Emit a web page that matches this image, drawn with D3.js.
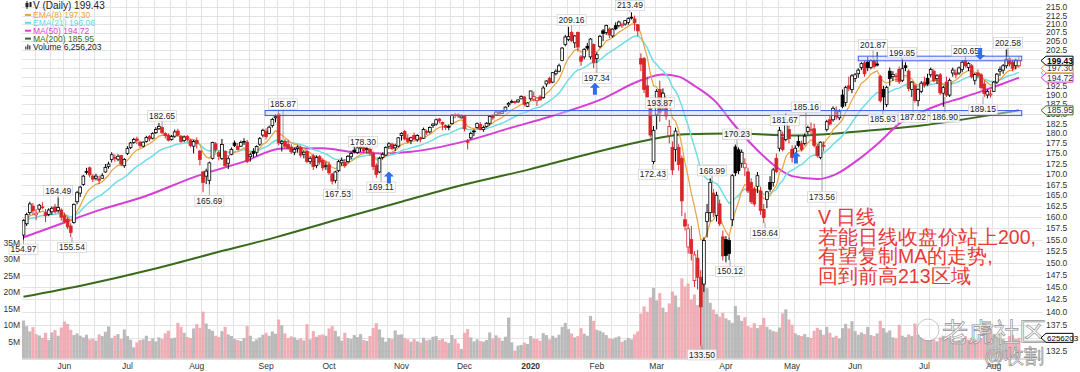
<!DOCTYPE html>
<html>
<head>
<meta charset="utf-8">
<script src="https://cdn.jsdelivr.net/npm/d3@7"></script>
<style>
  body { margin: 0; background: #fff; }
  svg { display: block; }
  text { font-family: "Liberation Sans", Arial, sans-serif; }
</style>
</head>
<body>
<div id="chart"></div>
<script>
// ---- data ----
const startDate = "2019-05-14";
const endDate = "2020-08-13";
const holidays = ["2019-05-27", "2019-07-04", "2019-09-02", "2019-11-28", "2019-12-25",
  "2020-01-01", "2020-01-20", "2020-02-17", "2020-04-10", "2020-05-25", "2020-07-03"];

// [open, high, low, close]
const ohlc = [
  // May 2019
  [156.0,159.5,154.97,159.2],[158.5,161.0,158.0,160.6],[161.0,163.5,160.5,163.0],[162.5,163.2,160.5,161.4],
  [160.5,161.8,159.3,160.9],[161.8,163.0,161.2,162.7],[162.3,163.4,161.8,162.2],[161.0,161.8,158.9,160.3],
  [160.6,162.0,160.2,161.6],[161.2,162.4,160.5,162.0],[162.3,163.0,160.8,161.2],[161.5,164.49,161.0,162.2],
  [161.6,162.0,159.2,160.0],
  // Jun
  [160.3,161.0,158.6,159.0],[159.5,160.0,157.3,157.8],[158.0,158.6,155.54,156.6],[158.8,163.1,158.5,162.9],
  [163.5,166.0,162.9,165.6],[165.5,167.2,164.6,166.9],[167.5,169.8,167.2,169.5],[170.5,171.5,169.9,170.6],
  [171.5,171.8,169.2,169.8],[169.5,170.0,168.1,168.8],[169.0,170.1,168.5,169.5],[168.8,169.6,167.6,168.5],
  [169.0,170.2,168.9,169.6],[170.5,172.4,170.3,171.6],[171.8,173.0,171.3,172.4],[173.5,175.3,172.8,174.7],
  [174.0,174.8,173.0,173.8],[173.6,174.8,173.1,174.3],[174.5,174.6,171.9,172.4],[172.0,173.9,171.5,173.55],
  // Jul
  [175.0,176.8,174.6,176.2],[176.5,177.9,176.1,177.6],[177.7,178.9,177.4,178.5],[178.6,179.2,177.3,178.2],
  [177.8,178.2,176.4,177.0],[176.8,178.0,176.5,177.8],[178.0,179.4,177.7,179.0],[179.2,179.6,178.0,178.6],
  [178.8,180.3,178.5,180.0],[180.2,181.6,179.9,181.0],[181.2,182.65,180.9,181.8],[181.5,181.8,179.8,180.2],
  [180.0,180.4,178.7,179.5],[179.6,180.0,178.0,178.3],[178.5,179.6,178.2,179.2],[179.3,181.0,178.9,180.4],
  [180.6,181.2,179.2,179.6],[179.3,179.6,177.6,178.0],[178.2,179.5,177.8,179.1],[179.2,179.6,177.9,178.5],
  [178.3,178.6,176.5,177.0],[176.8,178.4,175.0,178.0],
  // Aug
  [178.2,179.0,176.2,177.5],[175.6,175.9,172.1,173.5],[170.5,170.8,165.69,168.0],[169.5,171.3,167.6,170.7],
  [168.5,173.0,167.5,172.7],[173.8,177.9,173.5,177.7],[177.4,177.8,175.2,176.0],[175.2,175.7,173.3,174.3],
  [173.8,178.6,173.4,177.2],[175.5,175.8,171.8,172.0],[172.6,174.3,171.2,173.7],[174.8,176.5,174.6,176.0],
  [177.6,178.2,176.6,177.0],[176.7,177.6,175.8,176.0],[176.8,178.2,176.6,177.7],[177.9,178.8,177.1,178.0],
  [177.8,178.4,172.6,173.0],[174.2,175.2,173.0,174.7],[175.5,176.3,174.0,175.0],[175.3,177.0,174.4,176.7],
  [177.3,179.1,176.9,178.7],[179.6,181.2,179.0,180.8],
  // Sep
  [180.5,181.3,178.5,179.2],[180.0,182.0,179.8,181.6],[182.0,184.0,181.5,183.6],[184.0,184.9,182.8,184.3],
  [185.0,185.87,177.0,177.6],[177.5,178.4,175.5,177.9],[178.0,178.6,176.3,176.8],[177.2,178.3,176.0,176.3],
  [176.6,177.3,174.9,175.4],[175.3,176.5,174.6,176.0],[176.2,177.0,175.2,176.6],[176.5,176.9,174.0,174.6],
  [174.8,175.8,173.8,175.3],[175.5,175.9,172.6,173.0],[173.0,174.3,172.4,173.8],[174.4,174.9,171.0,171.8],
  [172.0,174.5,171.4,174.0],[174.2,174.6,172.3,172.9],[173.3,173.8,170.8,171.5],[171.8,173.0,171.0,172.0],
  // Oct
  [172.2,173.0,169.8,170.3],[170.0,170.3,167.53,168.3],[168.5,170.8,167.8,170.5],[170.8,173.4,170.5,173.0],
  [172.7,174.0,172.0,173.3],[172.8,173.6,171.5,172.0],[173.0,174.6,172.6,174.3],[174.2,175.4,173.6,175.0],
  [175.8,176.9,175.0,175.4],[175.2,178.3,174.9,176.4],[176.3,177.0,175.4,176.6],[176.5,176.9,175.0,175.6],
  [176.0,176.6,175.1,176.2],[176.0,176.4,174.5,175.2],[175.0,175.5,171.0,171.8],[172.0,172.6,169.11,169.9],
  [170.5,174.2,170.2,173.8],[174.0,175.2,173.5,174.8],[174.6,176.8,174.4,176.5],[176.8,177.8,176.1,177.4],
  [177.3,177.7,175.8,176.2],[176.4,177.4,175.6,177.0],[176.8,179.1,176.5,178.9],
  // Nov
  [179.5,180.3,178.2,180.0],[180.5,180.9,178.3,178.6],[178.8,179.8,177.5,178.0],[178.2,179.2,177.3,178.9],
  [179.5,180.2,178.3,178.6],[178.4,179.8,177.9,179.5],[178.9,179.2,177.8,178.6],[178.8,181.5,178.6,181.0],
  [180.5,181.0,179.6,180.3],[180.4,181.8,180.0,181.5],[182.0,182.6,181.4,182.4],[182.4,183.8,182.0,183.5],
  [183.7,184.0,182.6,183.2],[182.8,183.0,180.8,182.4],[182.0,182.3,180.9,181.5],[181.8,182.3,180.8,181.6],
  [182.5,185.0,182.3,184.7],[184.8,185.3,183.9,184.6],[184.8,185.2,184.0,184.5],[184.0,184.9,183.9,184.5],
  // Dec
  [184.6,184.8,180.5,181.2],[178.0,178.6,176.0,177.8],[178.9,180.5,178.5,180.0],[180.4,181.0,179.3,180.6],
  [181.5,182.8,181.2,182.5],[182.3,182.9,180.8,181.0],[181.0,182.0,180.4,181.5],[181.8,182.9,181.5,182.6],
  [182.6,184.7,182.0,184.4],[184.6,185.0,183.5,184.0],[184.8,185.9,184.5,185.5],[185.6,186.0,184.8,185.0],
  [185.2,186.0,185.0,185.7],[185.8,187.0,185.6,186.8],[187.4,188.2,186.8,187.8],[188.0,188.8,187.8,188.3],
  [188.3,188.5,187.6,188.0],[188.2,188.9,187.9,188.7],[189.0,189.9,188.9,189.6],[189.5,189.7,187.0,187.6],
  [187.0,188.1,186.8,187.9],
  // Jan 2020
  [189.0,191.2,188.5,191.1],[188.9,190.9,188.3,189.6],[188.5,189.4,187.1,189.2],[189.5,190.0,188.6,188.7],
  [189.3,192.5,189.0,191.9],[193.0,194.0,192.2,193.8],[194.5,195.0,193.0,193.3],[193.5,196.2,193.2,196.1],
  [195.8,197.0,195.3,196.5],[196.5,198.6,196.2,198.0],[199.5,203.3,199.3,203.0],[204.0,206.8,203.5,206.2],
  [205.5,209.16,205.0,206.3],[207.5,208.0,204.8,205.1],[204.5,206.8,203.0,206.5],[207.5,207.8,202.0,203.3],
  [200.5,201.0,198.0,199.3],[200.5,203.0,199.8,202.6],[203.5,204.5,202.5,203.0],[200.5,205.9,199.8,205.6],
  [204.0,204.3,197.34,198.9],
  // Feb
  [200.0,201.8,198.8,201.1],[203.5,206.8,203.0,206.4],[208.0,208.5,205.0,207.2],[207.5,209.8,206.8,209.6],
  [208.5,209.0,205.9,206.8],[206.5,208.7,206.0,208.5],[209.5,210.5,208.2,208.6],[209.5,211.0,209.0,210.6],
  [209.5,210.4,208.8,209.8],[210.0,211.2,209.5,211.0],[210.5,212.0,209.8,211.6],[212.0,213.49,211.3,212.0],
  [211.5,212.5,208.0,210.4],[209.8,210.0,206.5,208.0],[200.0,201.5,196.5,198.5],[200.0,200.5,190.5,191.5],
  [192.5,195.0,188.5,189.5],[186.5,188.0,179.0,179.6],[173.0,181.9,172.43,180.8],
  // Mar
  [184.8,191.6,181.0,191.0],[191.5,193.87,183.0,185.4],[187.0,191.8,185.8,190.5],[188.0,189.0,183.5,184.5],
  [179.5,183.5,177.5,181.8],[176.5,178.0,169.8,171.0],[176.0,181.5,173.0,180.6],[176.5,177.3,170.8,172.3],
  [173.8,174.5,160.2,163.7],[159.4,161.0,157.0,158.0],[153.4,158.5,152.0,157.4],[155.0,158.0,150.5,152.0],
  [146.3,152.5,145.0,151.7],[151.0,152.8,144.5,147.0],[147.0,148.5,133.5,141.0],[145.6,155.5,144.0,154.8],
  [159.0,163.0,155.5,161.0],[161.0,168.99,159.0,168.0],[165.5,166.5,160.0,161.0],[160.4,165.8,159.0,165.0],
  [163.0,164.0,158.0,158.5],[155.6,157.0,150.5,151.5],
  // Apr
  [155.0,155.8,150.12,151.6],[154.8,155.5,150.6,152.0],[159.4,170.0,158.0,169.6],[176.6,177.2,169.5,170.3],
  [175.9,176.5,170.0,170.8],[172.6,176.0,171.5,175.3],[171.5,173.8,169.5,172.5],[170.5,171.5,165.5,166.0],
  [168.0,169.0,163.0,163.5],[166.5,167.0,162.4,163.0],[167.1,170.5,165.5,169.6],[166.0,167.0,160.5,161.5],
  [161.7,163.0,158.64,159.9],[164.0,166.0,162.0,165.8],[168.0,169.5,165.8,166.4],[168.0,171.5,167.0,171.0],
  [173.8,175.0,170.2,170.6],[176.3,181.67,175.5,180.8],[179.0,180.5,175.5,176.0],[178.5,185.16,178.0,183.5],
  [181.0,182.0,177.5,178.7],
  // May
  [176.0,177.0,172.8,174.0],[174.8,177.0,173.8,176.3],[178.0,179.5,176.5,177.0],[177.5,178.2,175.5,176.0],
  [177.5,180.0,177.0,179.3],[180.5,182.0,179.8,181.5],[180.8,182.8,179.9,181.0],[181.2,182.5,176.5,177.0],
  [176.8,177.3,174.0,174.5],[174.0,178.0,173.56,177.8],[177.0,178.0,175.5,176.8],[181.0,183.5,180.5,183.0],
  [183.5,184.8,182.0,182.4],[183.5,187.0,183.0,186.5],[186.0,187.0,183.5,184.3],[184.0,186.2,183.4,185.6],
  [190.0,191.5,186.5,187.0],[188.0,192.5,187.0,192.0],[192.5,195.0,191.0,191.8],[191.5,195.7,190.5,195.2],
  // Jun
  [194.5,196.0,193.5,195.5],[195.8,197.3,194.7,196.8],[197.5,199.0,196.8,198.6],[198.8,199.5,195.0,195.8],
  [199.0,200.5,196.5,197.5],[197.5,199.8,197.0,199.5],[199.5,200.0,197.2,197.8],[198.5,201.87,197.8,198.2],
  [195.0,195.5,188.0,188.5],[191.5,192.5,185.93,189.5],[187.5,192.5,186.8,192.0],[196.5,197.5,192.5,194.5],
  [195.0,196.5,193.8,195.6],[195.0,196.0,193.5,195.2],[197.0,197.8,193.0,193.6],[194.0,199.85,193.5,197.2],
  [198.0,199.0,196.5,197.5],[196.5,197.0,191.0,191.8],[191.5,193.8,189.5,193.5],[192.5,193.0,188.0,188.6],
  [188.5,191.8,187.02,191.5],[191.0,193.8,190.5,193.2],
  // Jul
  [193.5,195.0,192.0,192.7],[194.5,195.8,192.5,193.0],[195.5,197.5,194.8,197.0],[196.5,197.0,193.5,193.9],
  [194.5,195.7,193.0,195.2],[195.5,196.0,190.0,190.6],[190.5,192.5,186.9,192.0],[193.5,195.0,189.5,190.0],
  [190.0,194.5,189.5,194.0],[196.0,197.5,195.0,196.8],[196.0,197.0,194.5,195.5],[196.0,197.8,195.5,197.4],
  [197.0,199.5,196.2,199.0],[199.5,200.65,197.5,198.0],[197.5,199.0,196.5,198.6],[198.0,198.5,194.5,195.0],
  [194.0,196.0,192.8,195.6],[196.0,197.0,194.5,195.3],[195.5,196.0,191.5,192.0],[193.0,194.0,189.5,190.4],
  [190.0,191.5,189.15,191.0],[190.0,191.5,189.3,190.3],
  // Aug
  [191.0,193.8,190.8,193.5],[193.5,196.0,193.0,195.7],[196.5,197.8,195.2,197.0],[196.8,198.5,195.8,198.0],
  [198.0,202.58,197.3,199.8],[200.0,200.5,197.8,198.5],[199.0,199.8,196.5,197.3],[198.0,200.0,197.0,199.6],
  [198.0,200.6,197.5,199.43]
];

// daily volume, millions of shares
const volumeM = [
  11.5,9.8,8.2,9.5,7.4,7.0,6.3,7.8,5.6,7.9,8.6,6.9,9.4,
  11.2,10.5,8.7,7.1,7.6,6.9,6.4,7.2,5.8,6.0,5.4,7.3,6.8,8.1,9.7,6.2,6.9,7.4,5.9,8.8,
  6.8,5.7,3.4,4.9,5.6,5.8,6.9,5.3,6.1,5.2,6.4,5.9,7.6,8.4,6.1,6.3,10.8,9.6,7.8,6.5,6.2,9.1,
  10.4,9.3,14.2,10.6,8.9,8.4,6.9,6.5,8.3,9.6,7.3,6.8,5.9,5.6,5.3,6.2,9.8,6.9,5.2,5.8,6.4,7.2,
  7.8,6.9,8.2,7.5,11.8,10.1,7.6,6.2,6.7,6.4,5.7,6.1,5.5,10.4,5.8,8.3,6.6,7.1,7.3,6.9,
  9.1,9.8,8.4,6.7,5.4,7.8,6.2,5.9,7.1,6.5,7.4,5.6,5.3,6.8,9.2,10.7,8.8,6.4,5.1,6.2,5.9,8.5,7.2,
  7.3,6.2,5.8,5.1,5.9,5.2,4.8,6.3,5.5,5.7,6.6,6.8,5.6,6.0,5.1,4.7,7.1,5.9,4.6,2.9,
  7.8,8.9,6.4,5.2,5.8,5.3,5.1,5.6,7.9,6.1,7.0,6.3,5.4,6.6,12.4,4.9,2.4,3.9,4.1,4.8,4.4,
  6.8,6.0,5.9,5.4,7.7,7.1,5.8,6.9,6.3,7.2,9.6,10.8,8.9,7.6,6.4,6.8,9.2,7.5,6.9,12.9,11.4,
  8.7,8.4,7.9,7.1,6.1,5.9,6.4,6.7,5.1,5.6,6.2,5.8,7.3,8.2,13.6,15.8,14.2,18.5,21.4,
  17.6,19.8,15.4,14.1,16.7,20.3,19.1,15.6,24.3,21.8,22.7,17.9,19.4,16.2,20.8,24.9,21.3,16.9,14.8,13.5,12.7,13.8,
  12.2,11.6,10.8,15.9,13.1,11.4,12.5,9.8,9.4,10.7,9.2,10.1,12.3,9.6,8.8,8.3,8.1,9.4,13.7,14.9,11.8,
  10.2,7.6,7.1,6.8,7.4,6.5,6.2,8.4,9.3,8.7,7.2,9.6,7.8,6.4,6.9,6.1,9.2,10.5,9.1,11.3,
  8.3,7.2,7.9,7.4,9.6,7.1,6.8,7.6,11.4,9.2,7.9,8.5,6.4,6.1,10.2,6.9,6.5,7.3,6.8,10.6,7.2,6.5,
  6.1,5.6,6.3,5.8,5.2,6.4,6.9,6.7,6.2,5.9,5.4,5.6,6.1,6.8,5.7,6.3,5.8,5.4,6.2,10.6,9.3,8.8,
  7.4,6.5,6.2,5.9,5.3,6.8,7.1,5.9,6.256203
];

// moving averages: [day index, value]
const ma50Pts = [[0,155.5],[13,158.8],[25,161.8],[38,164.6],[55,169.5],[70,173.0],[82,176.2],[95,176.3],
  [104,175.4],[114,175.0],[123,175.4],[140,178.0],[155,181.5],[167,184.3],[183,188.7],[196,194.0],
  [203,195.6],[208,195.0],[213,192.5],[220,188.0],[225,182.8],[233,175.8],[239,171.7],[244,169.5],
  [252,168.8],[258,170.0],[265,173.5],[272,178.0],[278,182.5],[285,185.5],[291,187.5],[298,189.3],
  [304,191.0],[310,192.8],[316,194.72]];
const ma200Pts = [[0,143.0],[20,145.5],[40,148.5],[60,152.0],[80,155.5],[100,159.5],[120,163.5],
  [140,167.5],[160,171.0],[180,175.0],[195,177.8],[210,179.8],[225,180.0],[245,179.5],[265,180.5],
  [285,182.0],[300,183.8],[316,185.95]];

// price callouts: [day index, price level of the label, text]
const callouts = [[0,152.9,"154.97"],[11,166.1,"164.49"],[15.4,153.3,"155.54"],[44,184.5,"182.65"],
  [59,163.7,"165.69"],[82.4,187.6,"185.87"],[99.8,165.2,"167.53"],[107.8,177.9,"178.30"],
  [113.5,166.9,"169.11"],[174,211.2,"209.16"],[182,194.6,"197.34"],[192.5,215.7,"213.49"],
  [202,187.9,"193.87"],[199.8,169.9,"172.43"],[218.6,170.8,"168.99"],[226.5,179.8,"170.23"],
  [224.3,148.2,"150.12"],[235.4,156.4,"158.64"],[215.4,131.8,"133.50"],[241.7,183.4,"181.67"],
  [248.4,186.8,"185.16"],[253.5,164.6,"173.56"],[269.7,203.9,"201.87"],[278.9,201.7,"199.85"],
  [272.8,183.6,"185.93"],[282.4,184.1,"187.02"],[292.5,184.1,"186.90"],[299.2,202.2,"200.65"],
  [304.6,186.2,"189.15"],[312.5,204.5,"202.58"]];

// blue arrows: [day index, tip price, direction]
const arrows = [[116,170.6,"up"],[181.4,193.3,"up"],[245.2,175.5,"up"],[303.7,199.6,"down"]];

// horizontal bands: [from index, to index, low price, high price]
const bands = [[76.7,316.9,184.6,185.9],[265,316.9,199.4,200.7]];

const legendRows = [
  ["V (Daily) 199.43", "#111"],
  ["EMA(8) 197.30", "#e8a33c"],
  ["EMA(21) 196.06", "#5fd8e0"],
  ["MA(50) 194.72", "#d63fd6"],
  ["MA(200) 185.95", "#3a6b1c"],
  ["Volume 6,256,203", "#333"]
];
const priceTags = [[185.95,"#3a6b1c"],[196.06,"#5fd8e0"],[194.72,"#d63fd6"],[197.30,"#e8a33c"],[199.43,"#000"]];
const volumeTag = "6256203";
const volumeTicks = [5,10,15,20,25,30,35];
const noteLines = ["V 日线", "若能日线收盘价站上200,", "有望复制MA的走势,", "回到前高213区域"];

// ---- setup ----
const W = 1080, H = 372;
const plotL = 22, plotR = 1042, plotB = 358.5;
const fmtDay = d3.timeFormat("%Y-%m-%d");
const dates = d3.timeDay.range(new Date(startDate + "T00:00"), d3.timeDay.offset(new Date(endDate + "T00:00"), 1))
  .filter(d => d.getDay() > 0 && d.getDay() < 6 && !holidays.includes(fmtDay(d)));
const N = dates.length;
if (N !== ohlc.length || N !== volumeM.length) {
  throw new Error("length mismatch: dates " + N + " ohlc " + ohlc.length + " vol " + volumeM.length);
}
const closes = ohlc.map(d => d[3]);

function ema(values, n) {
  const k = 2 / (n + 1);
  let prev = values[0];
  return values.map(v => (prev = v * k + prev * (1 - k)));
}
const ema8 = ema(closes, 8);
const ema21 = ema(closes, 21);

const x = d3.scaleLinear().domain([0, N - 1]).range([23.5, 23.5 + 3.15 * (N - 1)]);
const y = d3.scaleLog().domain([132.5, 215]).range([351, 7.3]);
const yv = d3.scaleLinear().domain([0, 35]).range([plotB, 243]);
const priceTicks = d3.range(132.5, 215.01, 2.5);

const svg = d3.select("#chart").append("svg").attr("width", W).attr("height", H);
svg.append("defs").append("clipPath").attr("id", "plot")
  .append("rect").attr("x", plotL).attr("y", 0).attr("width", plotR - plotL).attr("height", plotB);

// gridlines
const grid = svg.append("g").attr("stroke", "#e3e3e3").attr("stroke-width", 1);
grid.selectAll("line.h").data(priceTicks).join("line")
  .attr("x1", plotL).attr("x2", plotR)
  .attr("y1", d => Math.round(y(d)) + 0.5).attr("y2", d => Math.round(y(d)) + 0.5);
const weekStarts = d3.range(1, N).filter(i => dates[i].getDay() < dates[i - 1].getDay());
grid.selectAll("line.v").data(weekStarts).join("line")
  .attr("y1", 0).attr("y2", plotB)
  .attr("x1", i => Math.round(x(i) - 1.6) + 0.5).attr("x2", i => Math.round(x(i) - 1.6) + 0.5);
svg.append("line").attr("x1", plotL).attr("x2", plotR).attr("y1", plotB + 0.5).attr("y2", plotB + 0.5)
  .attr("stroke", "#bbb");

const g = svg.append("g").attr("clip-path", "url(#plot)");

// volume bars
g.append("g").selectAll("rect").data(volumeM).join("rect")
  .attr("x", (v, i) => x(i) - 1.55).attr("width", 3.1)
  .attr("y", v => yv(v)).attr("height", v => plotB - yv(v))
  .attr("fill", (v, i) => (i > 0 && closes[i] < closes[i - 1]) ? "#f0a4ad" : "#b3b3b3")
  .attr("fill-opacity", 0.9);

// moving averages
const smooth = d3.line().x(d => x(d[0])).y(d => y(d[1])).curve(d3.curveMonotoneX);
const straight = d3.line().x((d, i) => x(i)).y(d => y(d));
g.append("path").attr("d", smooth(ma200Pts)).attr("fill", "none").attr("stroke", "#3a6b1c").attr("stroke-width", 2);
g.append("path").attr("d", smooth(ma50Pts)).attr("fill", "none").attr("stroke", "#d63fd6").attr("stroke-width", 2);
g.append("path").attr("d", straight(ema21)).attr("fill", "none").attr("stroke", "#6fdde4").attr("stroke-width", 1.5);
g.append("path").attr("d", straight(ema8)).attr("fill", "none").attr("stroke", "#e8a33c").attr("stroke-width", 1.2);

// candles
const candle = g.append("g").selectAll("g").data(ohlc).join("g");
const candleColor = (d, i) => (i > 0 && d[3] < closes[i - 1]) ? "#d8262a" : "#000";
candle.append("line")
  .attr("x1", (d, i) => x(i)).attr("x2", (d, i) => x(i))
  .attr("y1", d => y(d[1])).attr("y2", d => y(d[2]))
  .attr("stroke", candleColor).attr("stroke-width", 1);
candle.append("rect")
  .attr("x", (d, i) => x(i) - 1.4).attr("width", 2.8)
  .attr("y", d => y(Math.max(d[0], d[3])))
  .attr("height", d => Math.max(0.8, y(Math.min(d[0], d[3])) - y(Math.max(d[0], d[3]))))
  .attr("fill", (d, i) => d[3] < d[0] ? candleColor(d, i) : "#fff")
  .attr("stroke", candleColor).attr("stroke-width", 0.8);

// bands
g.append("g").selectAll("rect").data(bands).join("rect")
  .attr("x", d => x(d[0])).attr("width", d => x(d[1]) - x(d[0]))
  .attr("y", d => y(d[3])).attr("height", d => y(d[2]) - y(d[3]))
  .attr("fill", "#c9d6ff").attr("fill-opacity", 0.45)
  .attr("stroke", "#3d5ef0").attr("stroke-width", 1);

// callouts with a short leader toward the nearest candle
const co = svg.append("g");
callouts.forEach(([i, level, label]) => {
  const px = x(i);
  const py = Math.max(5.5, y(level));
  const k = Math.max(0, Math.min(N - 1, Math.round(i)));
  const above = py < y(closes[k]);
  const target = above ? y(ohlc[k][1]) : y(ohlc[k][2]);
  const grp = co.append("g");
  const from = above ? py + 5 : py - 5;
  if (above ? target > from : target < from) {
    grp.append("line").attr("x1", px).attr("x2", px).attr("y1", from).attr("y2", target)
      .attr("stroke", "#777").attr("stroke-width", 0.7);
  }
  const rect = grp.append("rect").attr("fill", "#fff").attr("fill-opacity", 0.85)
    .attr("stroke", "#c8c8c8").attr("stroke-width", 0.6);
  const t = grp.append("text").attr("x", px).attr("y", py).attr("dy", "0.35em").attr("text-anchor", "middle")
    .attr("font-size", 8.5).attr("fill", "#222").text(label);
  const w = t.node().getComputedTextLength();
  rect.attr("x", px - w / 2 - 1.5).attr("y", py - 5.2).attr("width", w + 3).attr("height", 10.4);
});

// arrows
svg.append("g").selectAll("path").data(arrows).join("path")
  .attr("transform", d => `translate(${x(d[0])},${y(d[1])})`)
  .attr("d", d => d[2] === "up"
    ? "M0,0 L5,5 L2,5 L2,12 L-2,12 L-2,5 L-5,5 Z"
    : "M0,0 L5,-5 L2,-5 L2,-12 L-2,-12 L-2,-5 L-5,-5 Z")
  .attr("fill", "#2f6fe8");

// note text
svg.append("g").selectAll("text").data(noteLines).join("text")
  .attr("x", 818).attr("y", (d, i) => 224 + i * 19.6)
  .attr("font-family", '"Noto Sans CJK SC", sans-serif').attr("font-size", 19.5)
  .attr("fill", "#e83a36").text(d => d);

// watermark
const wm = svg.append("g").attr("opacity", 0.9);
wm.append("circle").attr("cx", 928).attr("cy", 330).attr("r", 9)
  .attr("fill", "none").attr("stroke", "#fff").attr("stroke-width", 2.5);
wm.append("circle").attr("cx", 928).attr("cy", 330).attr("r", 11)
  .attr("fill", "none").attr("stroke", "#999").attr("stroke-width", 0.6);
wm.append("text").attr("x", 942).attr("y", 341).attr("font-size", 26)
  .attr("font-family", '"Noto Sans CJK SC", sans-serif').attr("fill", "#fff")
  .attr("stroke", "#8a8a8a").attr("stroke-width", 0.7).text("老虎社区");
wm.append("text").attr("x", 984).attr("y", 363).attr("font-size", 20)
  .attr("font-family", '"Noto Sans CJK SC", sans-serif').attr("fill", "#fff")
  .attr("stroke", "#8a8a8a").attr("stroke-width", 0.7).text("@收割");

// right price axis
svg.append("g").selectAll("text").data(priceTicks).join("text")
  .attr("x", 1046).attr("y", d => y(d)).attr("dy", "0.35em")
  .attr("font-size", 8.5).attr("fill", "#333").text(d => d.toFixed(1));

// price tags
priceTags.forEach(([v, c]) => {
  const ty = y(v);
  const tg = svg.append("g");
  tg.append("path").attr("d", `M1041,${ty} l5,-4.5 h27 v9 h-27 Z`)
    .attr("fill", "#fff").attr("stroke", c).attr("stroke-width", 1);
  tg.append("text").attr("x", 1047).attr("y", ty).attr("dy", "0.35em")
    .attr("font-size", 8.5).attr("font-weight", v === 199.43 ? "bold" : "normal")
    .attr("fill", v === 199.43 ? "#000" : "#333").text(v.toFixed(2));
});
{
  const ty = yv(volumeM[N - 1]);
  svg.append("path").attr("d", `M1041,${ty} l5,-4.5 h27 v9 h-27 Z`)
    .attr("fill", "#fff").attr("stroke", "#000").attr("stroke-width", 1);
  svg.append("text").attr("x", 1047).attr("y", ty).attr("dy", "0.35em")
    .attr("font-size", 8).attr("fill", "#000").text(volumeTag);
}

// left volume axis
svg.append("g").selectAll("text").data(volumeTicks).join("text")
  .attr("x", 20).attr("y", d => yv(d)).attr("dy", "0.35em").attr("text-anchor", "end")
  .attr("font-size", 8.5).attr("fill", "#333").text(d => d + "M");

// month labels
const monthStarts = d3.range(1, N).filter(i => dates[i].getMonth() !== dates[i - 1].getMonth());
const fmtMonth = d3.timeFormat("%b");
svg.append("g").selectAll("text").data(monthStarts).join("text")
  .attr("x", i => x(i)).attr("y", 369).attr("text-anchor", "middle")
  .attr("font-size", 8.5).attr("fill", "#333")
  .attr("font-weight", i => dates[i].getMonth() === 0 ? "bold" : "normal")
  .text(i => dates[i].getMonth() === 0 ? dates[i].getFullYear() : fmtMonth(dates[i]));

// legend
const lg = svg.append("g");
legendRows.forEach(([label, c], k) => {
  const ly = k === 0 ? 9 : 9 + k * 7.9 + 1;
  if (k === 0) {
    lg.append("line").attr("x1", 27).attr("x2", 27).attr("y1", ly - 8).attr("y2", ly).attr("stroke", "#222");
    lg.append("rect").attr("x", 25.5).attr("y", ly - 6).attr("width", 3).attr("height", 4).attr("fill", "#222");
    lg.append("rect").attr("x", 29.5).attr("y", ly - 7).attr("width", 2).attr("height", 5).attr("fill", "#222");
  } else if (k === 5) {
    [[25, 3], [27, 5], [29, 4]].forEach(([bx, bh]) =>
      lg.append("rect").attr("x", bx).attr("y", ly - bh).attr("width", 1.5).attr("height", bh).attr("fill", "#555"));
  } else {
    lg.append("line").attr("x1", 25).attr("x2", 31).attr("y1", ly - 3).attr("y2", ly - 3)
      .attr("stroke", c).attr("stroke-width", 2);
  }
  lg.append("text").attr("x", 33).attr("y", ly)
    .attr("font-size", k === 0 ? 10 : 8.5).attr("fill", k === 0 || k === 5 ? "#222" : c)
    .text(label);
});
</script>
</body>
</html>
